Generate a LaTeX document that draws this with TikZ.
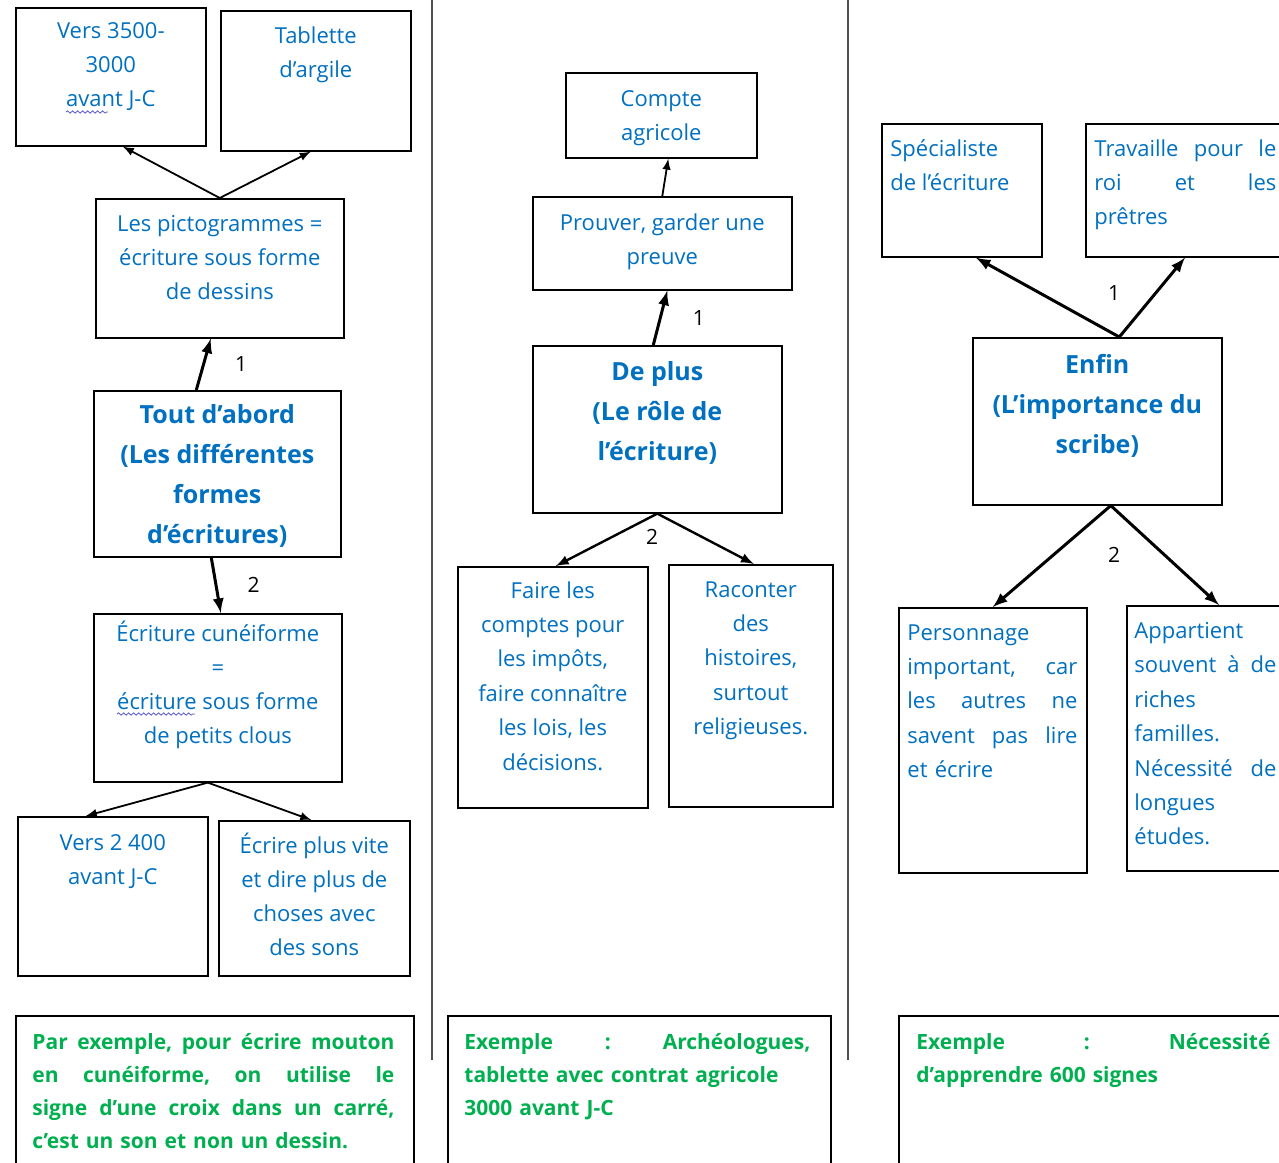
\documentclass[tikz,border=0pt]{standalone}
\usepackage{fontspec}
\setmainfont{Open Sans}
\usepackage{tikz}
\usetikzlibrary{positioning}
\usetikzlibrary{decorations.pathmorphing}
\definecolor{bleu}{RGB}{0,112,192}
\definecolor{vert}{RGB}{0,176,80}
\definecolor{separ}{RGB}{80,80,80}
\definecolor{souligne}{RGB}{90,90,210}
\newcommand{\ligne}[2]{\leavevmode\hbox to #1{\frenchspacing\spaceskip=0.28em plus 1fil\relax #2}}
\tikzstyle{block} = [draw, rectangle, anchor=north west, inner sep=0pt, line width=0.8pt]
\tikzstyle{txt} = [anchor=north, align=center, inner sep=0pt, text=bleu, font=\fontsize{11}{17}\selectfont]
\tikzstyle{titre} = [txt, font=\bfseries\fontsize{12.5}{20}\selectfont]
\tikzstyle{txtg} = [anchor=north west, align=left, inner sep=0pt, text=bleu, font=\fontsize{11}{17}\selectfont]
\tikzstyle{exemple} = [anchor=north west, align=left, inner sep=0pt, text=vert, font=\bfseries\fontsize{10.5}{16.5}\selectfont]
\tikzstyle{num} = [inner sep=0pt, font=\fontsize{10.5}{12}\selectfont]
\tikzstyle{fin} = [->, line width=0.9pt]
\tikzstyle{moyen} = [->, line width=1.2pt]
\tikzstyle{gros} = [->, line width=1.5pt]
\tikzstyle{ondule} = [decorate, decoration={snake, amplitude=0.6pt, segment length=2.5pt}, souligne, line width=0.4pt]

\begin{document}
\begin{tikzpicture}[x=0.5pt,y=-0.5pt,>=latex]
    \useasboundingbox (0,0) rectangle (1279,1162);
    \clip (0,0) rectangle (1279,1162);
    \fill[white] (0,0) rectangle (1279,1162);

    % premiere colonne
    \node [block, minimum width=95pt, minimum height=69pt] (vers) at (15,7) {};
    \node [txt, below=7.5pt of vers.north] (tvers) {Vers 3500-\\3000\\avant J-C};
    \node [block, minimum width=95pt, minimum height=70pt] (tablette) at (220,10) {};
    \node [txt, below=8pt of tablette.north] (ttablette) {Tablette\\d’argile};
    \node [block, minimum width=124pt, minimum height=69.5pt] (picto) at (95,198) {};
    \node [txt, below=8.5pt of picto.north] (tpicto) {Les pictogrammes =\\écriture sous forme\\de dessins};
    \node [block, minimum width=123.5pt, minimum height=83pt] (abord) at (93,390) {};
    \node [titre, below=7pt of abord.north] (tabord) {Tout d’abord\\(Les différentes\\formes\\d’écritures)};
    \node [block, minimum width=124pt, minimum height=84pt] (cunei) at (93,613) {};
    \node [txt, below=4pt of cunei.north] (tcunei) {Écriture cunéiforme\\=\\écriture sous forme\\de petits clous};
    \node [block, minimum width=95pt, minimum height=79.5pt] (vers2) at (17,816) {};
    \node [txt, below=9pt of vers2.north] (tvers2) {Vers 2 400\\avant J-C};
    \node [block, minimum width=95.5pt, minimum height=77.5pt] (sons) at (218,820) {};
    \node [txt, below=6.5pt of sons.north] (tsons) {Écrire plus vite\\et dire plus de\\choses avec\\des sons};
    \node [block, minimum width=199pt, minimum height=100pt] (ex1) at (15,1015) {};
    \node [exemple, text width=181pt, below right=9pt and 8.5pt of ex1.north west] (tex1) {\ligne{181pt}{Par exemple, pour écrire mouton}\\\ligne{181pt}{en cunéiforme, on utilise le}\\\ligne{181pt}{signe d'une croix dans un carré,}\\c'est un son et non un dessin.};

    % deuxieme colonne
    \node [block, minimum width=95.5pt, minimum height=42.5pt] (compte) at (565,72) {};
    \node [txt, below=9pt of compte.north] (tcompte) {Compte\\agricole};
    \node [block, minimum width=129.5pt, minimum height=46.5pt] (preuve) at (532,196) {};
    \node [txt, below=8.5pt of preuve.north] (tpreuve) {Prouver, garder une\\preuve};
    \node [block, minimum width=124.5pt, minimum height=83.5pt] (role) at (532,345) {};
    \node [titre, below=8pt of role.north] (trole) {De plus\\(Le rôle de\\l’écriture)};
    \node [block, minimum width=95pt, minimum height=120.5pt] (comptes) at (457,566) {};
    \node [txt, below=7.5pt of comptes.north, font=\fontsize{11}{17.2}\selectfont] (tcomptes) {Faire les\\comptes pour\\les impôts,\\faire connaître\\les lois, les\\décisions.};
    \node [block, minimum width=82pt, minimum height=121pt] (histoires) at (668,564) {};
    \node [txt, below=8.5pt of histoires.north, font=\fontsize{11}{17.2}\selectfont] (thistoires) {Raconter\\des\\histoires,\\surtout\\religieuses.};
    \node [block, minimum width=191.5pt, minimum height=100pt] (ex2) at (447,1015) {};
    \node [exemple, text width=173pt, below right=9pt and 8.5pt of ex2.north west] (tex2) {\ligne{173pt}{Exemple : Archéologues,}\\tablette avec contrat agricole\\3000 avant J-C};

    % troisieme colonne
    \node [block, minimum width=80pt, minimum height=66.5pt] (specialiste) at (881,123) {};
    \node [txtg, below right=8pt and 4.5pt of specialiste.north west] (tspecialiste) {Spécialiste\\de l’écriture};
    \node [block, minimum width=130pt, minimum height=66.5pt] (roi) at (1085,123) {};
    \node [txtg, text width=91pt, below right=8pt and 4.5pt of roi.north west] (troi) {\ligne{91pt}{Travaille pour le}\\\ligne{91pt}{roi et les}\\prêtres};
    \node [block, minimum width=124.5pt, minimum height=83.5pt] (scribe) at (972,337) {};
    \node [titre, below=8.5pt of scribe.north] (tscribe) {Enfin\\(L’importance du\\scribe)};
    \node [block, minimum width=94pt, minimum height=132.5pt] (personnage) at (898,607) {};
    \node [txtg, text width=85pt, below right=8.5pt and 4.5pt of personnage.north west, font=\fontsize{11}{17.2}\selectfont] (tpersonnage) {Personnage\\\ligne{85pt}{important, car}\\\ligne{85pt}{les autres ne}\\\ligne{85pt}{savent pas lire}\\et écrire};
    \node [block, minimum width=100pt, minimum height=132.5pt] (familles) at (1126,605) {};
    \node [txtg, text width=71pt, below right=8.5pt and 4pt of familles.north west, font=\fontsize{11}{17.2}\selectfont] (tfamilles) {Appartient\\\ligne{71pt}{souvent à de}\\riches\\familles.\\\ligne{71pt}{Nécessité de}\\longues\\études.};
    \node [block, minimum width=225pt, minimum height=100pt] (ex3) at (898,1015) {};
    \node [exemple, text width=177pt, below right=9pt and 9pt of ex3.north west] (tex3) {\ligne{177pt}{Exemple : Nécessité}\\d'apprendre 600 signes};

    \node [num] (deux2) at (652,537) {2};
    \node [num] (un3) at (1114,293) {1};
    \node [num] (deux3) at (1114,555) {2};

    \draw [fin] (picto.north) -- ([xshift=6pt]vers.south);
    \draw [fin] (picto.north) -- ([xshift=-2.5pt]tablette.south);
    \draw [gros] ([xshift=-10.5pt]abord.north) -- node[num, right=15pt] (un1) {1} ([xshift=-4.5pt]picto.south);
    \draw [gros] ([xshift=-3pt]abord.south) -- node[num, right=15pt] (deux1) {2} ([xshift=1.5pt]cunei.north);
    \draw [fin] ([xshift=-5pt]cunei.south) -- ([xshift=-13.5pt]vers2.north);
    \draw [fin] ([xshift=-5pt]cunei.south) -- ([xshift=-1.5pt]sons.north);

    \draw [fin] (preuve.north) -- ([xshift=3.5pt]compte.south);
    \draw [gros] ([xshift=-2pt]role.north) -- node[num, right=15.5pt] (un2) {1} ([xshift=2.5pt]preuve.south);
    \draw [moyen] (role.south) -- ([xshift=1.5pt]comptes.north);
    \draw [moyen] (role.south) -- ([xshift=1.5pt]histoires.north);

    \draw [gros] ([xshift=11pt]scribe.north) -- ([xshift=7pt]specialiste.south);
    \draw [gros] ([xshift=11pt]scribe.north) -- ([xshift=50pt]roi.south west);
    \draw [gros] ([xshift=6.75pt]scribe.south) -- (personnage.north);
    \draw [gros] ([xshift=6.75pt]scribe.south) -- ([xshift=46.5pt]familles.north west);

    % soulignements
    \draw [ondule] (66,112) -- (108,112);
    \draw [ondule] (117,714) -- (195,714);

    \draw [separ, line width=0.8pt] (432,0) -- (432,1060);
    \draw [separ, line width=0.8pt] (848,0) -- (848,1060);
\end{tikzpicture}
\end{document}
